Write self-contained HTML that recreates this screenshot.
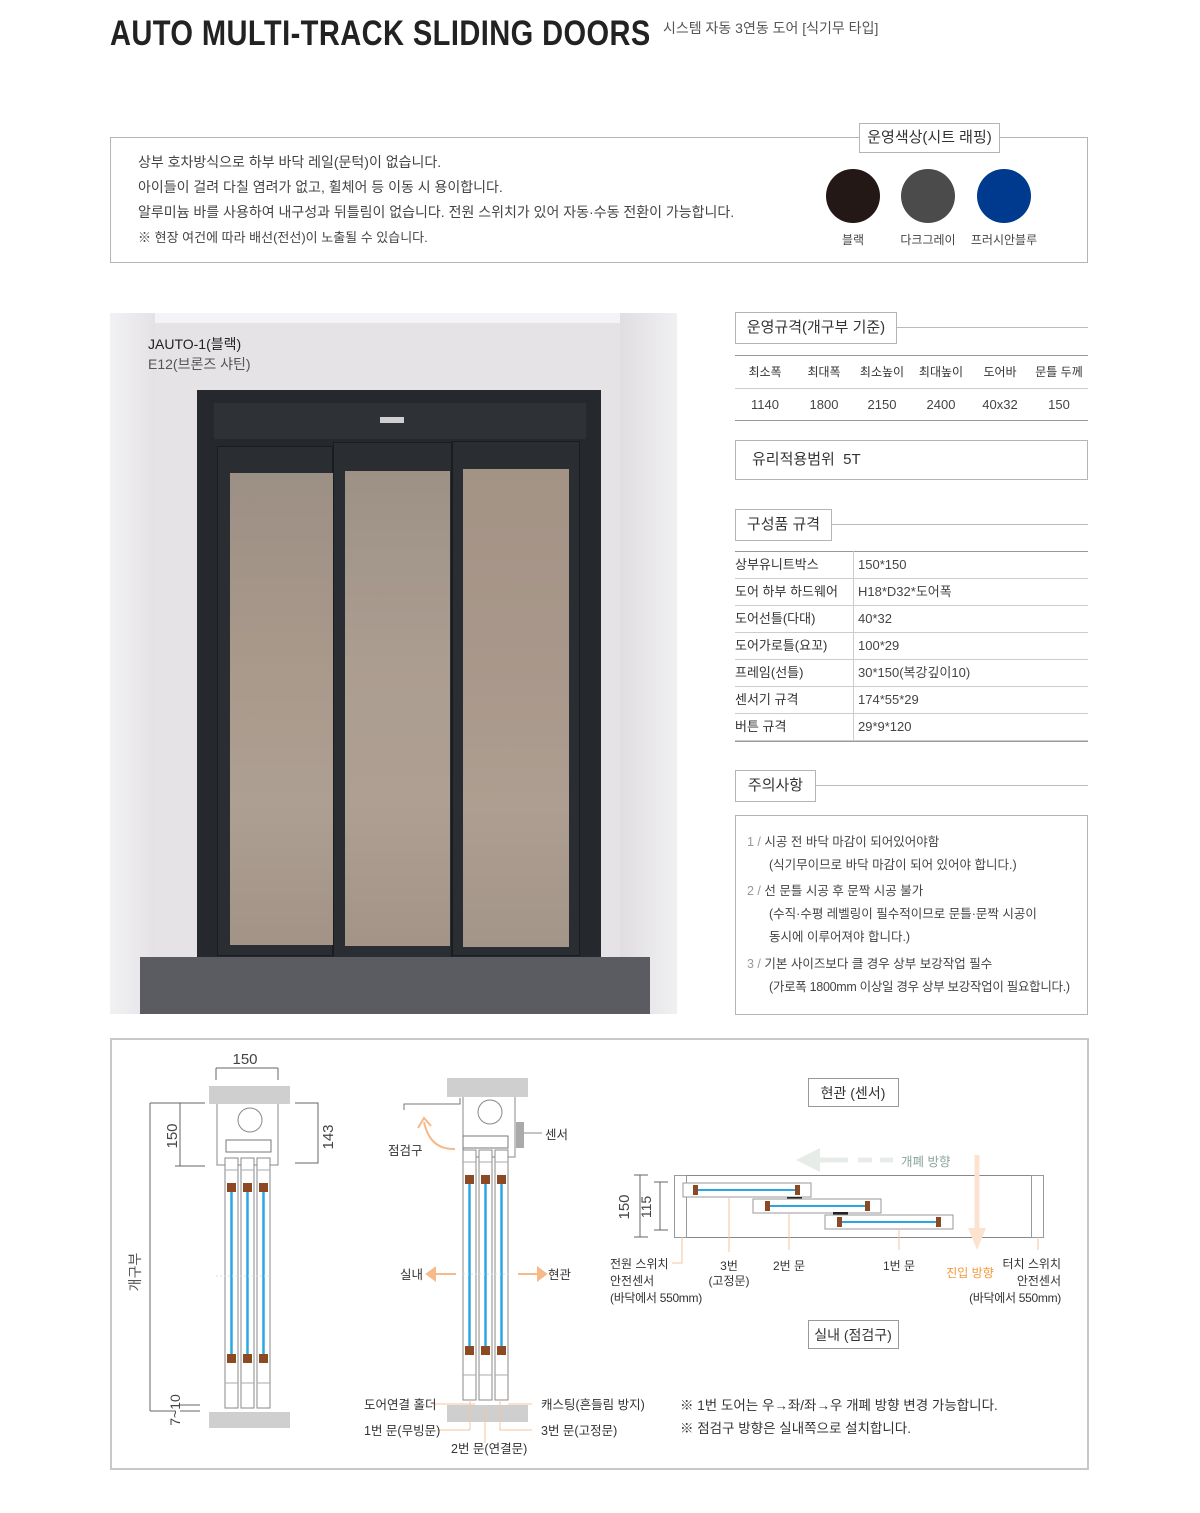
<!DOCTYPE html>
<html><head><meta charset="utf-8"><style>
*{margin:0;padding:0;box-sizing:border-box}
body{width:1200px;height:1513px;background:#fff;position:relative;overflow:hidden;font-family:"Liberation Sans","Noto Sans CJK KR",sans-serif;color:#444}
.a{position:absolute}
.t{position:absolute;white-space:nowrap;line-height:1}
.bx{position:absolute;border:1px solid #b5b5b5;background:#fff}
.hl{position:absolute;height:1px;background:#bbb}
</style></head><body>
<div class="t" style="left:110px;top:16px;font-size:35px;color:#222;letter-spacing:0.5px;font-weight:bold;transform:scaleX(0.83);transform-origin:left">AUTO MULTI-TRACK SLIDING DOORS</div>
<div class="t" style="left:663px;top:21px;font-size:14px;color:#555">시스템 자동 3연동 도어 [식기무 타입]</div>

<div class="bx" style="left:110px;top:137px;width:978px;height:126px"></div>
<div class="t" style="left:138px;top:155px;font-size:14px">상부 호차방식으로 하부 바닥 레일(문턱)이 없습니다.</div>
<div class="t" style="left:138px;top:180px;font-size:14px">아이들이 걸려 다칠 염려가 없고, 휠체어 등 이동 시 용이합니다.</div>
<div class="t" style="left:138px;top:205px;font-size:14px">알루미늄 바를 사용하여 내구성과 뒤틀림이 없습니다. 전원 스위치가 있어 자동·수동 전환이 가능합니다.</div>
<div class="t" style="left:138px;top:231px;font-size:13px">※ 현장 여건에 따라 배선(전선)이 노출될 수 있습니다.</div>
<div class="bx" style="left:859px;top:123px;width:141px;height:30px"></div>
<div class="t" style="left:859px;top:130px;width:141px;text-align:center;font-size:15px;color:#333">운영색상(시트 래핑)</div>
<div class="a" style="left:826px;top:169px;width:54px;height:54px;border-radius:50%;background:#231815"></div>
<div class="a" style="left:901px;top:169px;width:54px;height:54px;border-radius:50%;background:#4b4b4b"></div>
<div class="a" style="left:977px;top:169px;width:54px;height:54px;border-radius:50%;background:#003a8e"></div>
<div class="t" style="left:826px;top:234px;width:54px;text-align:center;font-size:12px">블랙</div>
<div class="t" style="left:893px;top:234px;width:70px;text-align:center;font-size:12px">다크그레이</div>
<div class="t" style="left:964px;top:234px;width:80px;text-align:center;font-size:12px">프러시안블루</div>

<!-- photo -->
<div class="a" style="left:110px;top:313px;width:567px;height:701px;background:#e6e3e6;overflow:hidden">
 <div class="a" style="left:0;top:0;width:45px;height:701px;background:linear-gradient(90deg,#f2f1f3,#e4e2e5)"></div>
 <div class="a" style="left:510px;top:0;width:57px;height:701px;background:linear-gradient(90deg,#e0dee1,#f0eff1)"></div>
 <div class="a" style="left:45px;top:0;width:465px;height:10px;background:#f4f3f5"></div>
 <div class="a" style="left:87px;top:77px;width:404px;height:570px;background:#25292d"></div>
 <div class="a" style="left:104px;top:90px;width:372px;height:36px;background:#2e3236"></div>
 <div class="a" style="left:270px;top:104px;width:24px;height:6px;background:#cfcfcf"></div>
 <div class="a" style="left:107px;top:133px;width:116px;height:510px;background:#2a2e33;border:1px solid #1a1d20"></div>
 <div class="a" style="left:223px;top:129px;width:119px;height:516px;background:#2a2e33;border:1px solid #1a1d20"></div>
 <div class="a" style="left:342px;top:128px;width:128px;height:515px;background:#2a2e33;border:1px solid #1a1d20"></div>
 <div class="a" style="left:120px;top:160px;width:103px;height:472px;background:linear-gradient(180deg,#9c8f84,#a9998b 40%,#ad9f92 70%,#a29386)"></div>
 <div class="a" style="left:235px;top:158px;width:105px;height:475px;background:linear-gradient(180deg,#9d9186,#ab9d90 40%,#ae9f92 70%,#a39487)"></div>
 <div class="a" style="left:353px;top:156px;width:106px;height:478px;background:linear-gradient(180deg,#a39385,#a8978a 40%,#ad9e91 70%,#a39588)"></div>
 <div class="a" style="left:30px;top:644px;width:510px;height:57px;background:#5b5c62"></div>
 <div class="t" style="left:38px;top:24px;font-size:14px;color:#222">JAUTO-1(블랙)</div>
 <div class="t" style="left:38px;top:44px;font-size:14px;color:#555">E12(브론즈 샤틴)</div>
</div>

<!-- right column -->
<div class="bx" style="left:735px;top:312px;width:162px;height:32px"></div>
<div class="t" style="left:735px;top:320px;width:162px;text-align:center;font-size:15px;color:#333">운영규격(개구부 기준)</div>
<div class="hl" style="left:897px;top:327px;width:191px"></div>
<div class="hl" style="left:735px;top:355px;width:353px;background:#999"></div>
<div class="hl" style="left:735px;top:388px;width:353px;background:#ccc"></div>
<div class="hl" style="left:735px;top:420px;width:353px;background:#999"></div>
<div class="t" style="left:735px;top:366px;width:60px;text-align:center;font-size:12px;color:#333">최소폭</div>
<div class="t" style="left:794px;top:366px;width:60px;text-align:center;font-size:12px;color:#333">최대폭</div>
<div class="t" style="left:852px;top:366px;width:60px;text-align:center;font-size:12px;color:#333">최소높이</div>
<div class="t" style="left:911px;top:366px;width:60px;text-align:center;font-size:12px;color:#333">최대높이</div>
<div class="t" style="left:970px;top:366px;width:60px;text-align:center;font-size:12px;color:#333">도어바</div>
<div class="t" style="left:1029px;top:366px;width:60px;text-align:center;font-size:12px;color:#333">문틀 두께</div>
<div class="t" style="left:735px;top:398px;width:60px;text-align:center;font-size:13px">1140</div>
<div class="t" style="left:794px;top:398px;width:60px;text-align:center;font-size:13px">1800</div>
<div class="t" style="left:852px;top:398px;width:60px;text-align:center;font-size:13px">2150</div>
<div class="t" style="left:911px;top:398px;width:60px;text-align:center;font-size:13px">2400</div>
<div class="t" style="left:970px;top:398px;width:60px;text-align:center;font-size:13px">40x32</div>
<div class="t" style="left:1029px;top:398px;width:60px;text-align:center;font-size:13px">150</div>

<div class="bx" style="left:735px;top:440px;width:353px;height:40px"></div>
<div class="t" style="left:752px;top:452px;font-size:15px;color:#333">유리적용범위 &nbsp;5T</div>

<div class="bx" style="left:735px;top:509px;width:97px;height:32px"></div>
<div class="t" style="left:735px;top:517px;width:97px;text-align:center;font-size:15px;color:#333">구성품 규격</div>
<div class="hl" style="left:832px;top:524px;width:256px"></div>
<div class="hl" style="left:735px;top:551px;width:353px;background:#999"></div>
<div class="a" style="left:735px;top:578px;width:353px;height:163px;background:repeating-linear-gradient(180deg,#ccc 0,#ccc 1px,transparent 1px,transparent 27px)"></div>
<div class="hl" style="left:735px;top:741px;width:353px;background:#999"></div>
<div class="a" style="left:853px;top:551px;width:1px;height:190px;background:#ccc"></div>
<div class="t" style="left:735px;top:551px;font-size:13px;color:#333;line-height:27px">상부유니트박스<br>도어 하부 하드웨어<br>도어선틀(다대)<br>도어가로틀(요꼬)<br>프레임(선틀)<br>센서기 규격<br>버튼 규격</div>
<div class="t" style="left:858px;top:551px;font-size:13px;line-height:27px">150*150<br>H18*D32*도어폭<br>40*32<br>100*29<br>30*150(복강깊이10)<br>174*55*29<br>29*9*120</div>

<div class="bx" style="left:735px;top:770px;width:81px;height:32px"></div>
<div class="t" style="left:735px;top:778px;width:81px;text-align:center;font-size:15px;color:#333">주의사항</div>
<div class="hl" style="left:816px;top:785px;width:272px"></div>
<div class="bx" style="left:735px;top:815px;width:353px;height:200px"></div>
<div class="t" style="left:747px;top:831px;font-size:12.5px;line-height:23px"><span style="color:#999">1 / </span>시공 전 바닥 마감이 되어있어야함<br><span style="padding-left:22px">(식기무이므로 바닥 마감이 되어 있어야 합니다.)</span></div>
<div class="t" style="left:747px;top:880px;font-size:12.5px;line-height:23px"><span style="color:#999">2 / </span>선 문틀 시공 후 문짝 시공 불가<br><span style="padding-left:22px">(수직·수평 레벨링이 필수적이므로 문틀·문짝 시공이</span><br><span style="padding-left:22px">동시에 이루어져야 합니다.)</span></div>
<div class="t" style="left:747px;top:953px;font-size:12.5px;line-height:23px"><span style="color:#999">3 / </span>기본 사이즈보다 클 경우 상부 보강작업 필수<br><span style="padding-left:22px;letter-spacing:-0.3px">(가로폭 1800mm 이상일 경우 상부 보강작업이 필요합니다.)</span></div>

<!-- bottom diagram -->
<div class="a" style="left:110px;top:1038px;width:979px;height:432px;border:2px solid #c8c8c8"></div>
<svg class="a" style="left:0;top:0" width="1200" height="1513" xmlns="http://www.w3.org/2000/svg" font-family="Liberation Sans, Noto Sans CJK KR, sans-serif">
 <defs>
  <g id="door">
   <rect x="0" y="0" width="13" height="250" fill="#fff" stroke="#888" stroke-width="1"/>
   <line x1="6.5" y1="30" x2="6.5" y2="200" stroke="#2aa7e0" stroke-width="2.5"/>
   <rect x="2" y="25" width="9" height="9" fill="#8b4a23"/>
   <rect x="2" y="196" width="9" height="9" fill="#8b4a23"/>
   <line x1="0" y1="12" x2="13" y2="12" stroke="#aaa"/>
   <line x1="0" y1="225" x2="13" y2="225" stroke="#aaa"/>
  </g>
 </defs>
 <rect x="209" y="1086" width="81" height="18" fill="#cfcfcf"/>
 <rect x="209" y="1412" width="81" height="16" fill="#cfcfcf"/>
 <path d="M217 1104 V1165 H278 V1104" fill="#fff" stroke="#888"/>
 <circle cx="250" cy="1120" r="12" fill="#fff" stroke="#888"/>
 <rect x="226" y="1140" width="45" height="12" fill="#fff" stroke="#777"/>
 <use href="#door" x="225" y="1158"/><use href="#door" x="241" y="1158"/><use href="#door" x="257" y="1158"/>
 <line x1="216" y1="1276" x2="272" y2="1276" stroke="#ddd" stroke-dasharray="2 2"/>
 <g stroke="#666" stroke-width="1" fill="none">
  <path d="M216 1068 V1080 M278 1068 V1080 M216 1068 H278"/>
  <path d="M150 1103 H175 M150 1411 H175 M150 1103 V1411"/>
  <path d="M180 1103 V1166 M175 1103 H205 M175 1166 H205"/>
  <path d="M295 1103 H318 V1163 H295"/>
  <path d="M180 1405 H200 M180 1411 H200"/>
 </g>
 <text x="245" y="1064" font-size="15" fill="#444" text-anchor="middle">150</text>
 <text transform="translate(177,1136) rotate(-90)" font-size="15" fill="#444" text-anchor="middle">150</text>
 <text transform="translate(333,1137) rotate(-90)" font-size="15" fill="#444" text-anchor="middle">143</text>
 <text transform="translate(140,1272) rotate(-90)" font-size="14" fill="#555" text-anchor="middle">개구부</text>
 <text transform="translate(180,1410) rotate(-90)" font-size="14" fill="#444" text-anchor="middle">7~10</text>
 <rect x="447" y="1078" width="81" height="19" fill="#cfcfcf"/>
 <rect x="447" y="1405" width="81" height="17" fill="#cfcfcf"/>
 <path d="M463 1097 V1157 H515 V1097" fill="#fff" stroke="#888"/>
 <circle cx="490" cy="1112" r="12" fill="#fff" stroke="#888"/>
 <rect x="463" y="1136" width="45" height="12" fill="#fff" stroke="#777"/>
 <path d="M404 1110 V1104 H460 V1098" fill="none" stroke="#777"/>
 <path d="M516 1122 h8 v26 h-8" fill="#aaa"/>
 <use href="#door" x="463" y="1150"/><use href="#door" x="479" y="1150"/><use href="#door" x="495" y="1150"/>
 <line x1="463" y1="1274" x2="510" y2="1274" stroke="#ddd" stroke-dasharray="2 2"/>
 <g stroke="#f5b98a" stroke-width="2" fill="none">
  <path d="M455 1149 Q430 1150 424 1122"/>
  <path d="M456 1274 H435 M518 1274 H538"/>
  <path d="M435 1268 L427 1274 L435 1280 Z M538 1268 L546 1274 L538 1280 Z" fill="#f5b98a"/>
  <path d="M418 1128 L424 1118 L431 1126" />
 </g>
 <g stroke="#f5c49c" stroke-width="1" fill="none">
  <path d="M435 1404 H475 M470 1430 H437 M470 1400 V1430 M485 1410 V1443 M500 1400 V1430 H532 M508 1404 H532"/>
 </g>
 <line x1="524" y1="1133" x2="542" y2="1133" stroke="#888"/>
 <g font-size="12.5" fill="#333">
  <text x="545" y="1139">센서</text>
  <text x="388" y="1155">점검구</text>
  <text x="400" y="1279">실내</text>
  <text x="548" y="1279">현관</text>
  <text x="364" y="1409">도어연결 홀더</text>
  <text x="364" y="1435">1번 문(무빙문)</text>
  <text x="451" y="1453">2번 문(연결문)</text>
  <text x="541" y="1409">캐스팅(흔들림 방지)</text>
  <text x="541" y="1435">3번 문(고정문)</text>
 </g>
 <rect x="808.5" y="1078.5" width="90" height="28" fill="#fff" stroke="#999"/>
 <text x="853" y="1098" font-size="14" fill="#333" text-anchor="middle">현관 (센서)</text>
 <rect x="808.5" y="1320.5" width="90" height="28" fill="#fff" stroke="#999"/>
 <text x="853" y="1340" font-size="14" fill="#333" text-anchor="middle">실내 (점검구)</text>
 <rect x="674.5" y="1175.5" width="369" height="62" fill="#fff" stroke="#888"/>
 <rect x="674.5" y="1175.5" width="12" height="62" fill="#fff" stroke="#999"/>
 <rect x="1031.5" y="1175.5" width="12" height="62" fill="#fff" stroke="#999"/>
 <g>
  <rect x="683" y="1183" width="128" height="14" fill="#fff" stroke="#999"/>
  <line x1="697" y1="1190" x2="797" y2="1190" stroke="#2aa7e0" stroke-width="2"/>
  <rect x="693" y="1185" width="5" height="10" fill="#8b4a23"/><rect x="795" y="1185" width="5" height="10" fill="#8b4a23"/>
  <rect x="787" y="1197" width="15" height="3" fill="#222"/>
  <rect x="753" y="1199" width="128" height="14" fill="#fff" stroke="#999"/>
  <line x1="768" y1="1206" x2="867" y2="1206" stroke="#2aa7e0" stroke-width="2"/>
  <rect x="765" y="1201" width="5" height="10" fill="#8b4a23"/><rect x="865" y="1201" width="5" height="10" fill="#8b4a23"/>
  <rect x="833" y="1212" width="15" height="3" fill="#222"/>
  <rect x="825" y="1215" width="128" height="14" fill="#fff" stroke="#999"/>
  <line x1="840" y1="1222" x2="938" y2="1222" stroke="#2aa7e0" stroke-width="2"/>
  <rect x="837" y="1217" width="5" height="10" fill="#8b4a23"/><rect x="936" y="1217" width="5" height="10" fill="#8b4a23"/>
 </g>
 <g stroke="#e8ece9" stroke-width="5" fill="none"><path d="M820 1160 H848 M858 1160 H872 M880 1160 H893"/></g>
 <path d="M796 1160 L820 1148 L820 1172 Z" fill="#e8ece9"/>
 <text x="901" y="1166" font-size="12.5" fill="#8aa59a">개폐 방향</text>
 <line x1="977" y1="1155" x2="977" y2="1230" stroke="#fbe3cf" stroke-width="5"/>
 <path d="M968 1228 L986 1228 L977 1250 Z" fill="#fbe3cf"/>
 <g stroke="#666" fill="none">
  <path d="M634 1175 H648 M634 1237 H648 M640 1175 V1237 M654 1182 H668 M654 1230 H668 M660 1182 V1230"/>
 </g>
 <text transform="translate(629,1207) rotate(-90)" font-size="15" fill="#444" text-anchor="middle">150</text>
 <text transform="translate(651,1207) rotate(-90)" font-size="14" fill="#444" text-anchor="middle">115</text>
 <g stroke="#f5c49c" fill="none"><path d="M682 1237 V1263 H672 M729 1197 V1252 M789 1213 V1250 M899 1229 V1250 M1038 1237 V1250"/></g>
 <g font-size="12" fill="#333">
  <text x="610" y="1268">전원 스위치</text><text x="610" y="1285">안전센서</text><text x="610" y="1302" letter-spacing="-0.3">(바닥에서 550mm)</text>
  <text x="729" y="1270" text-anchor="middle">3번</text><text x="729" y="1285" text-anchor="middle">(고정문)</text>
  <text x="789" y="1270" text-anchor="middle">2번 문</text>
  <text x="899" y="1270" text-anchor="middle">1번 문</text>
  <text x="1061" y="1268" text-anchor="end">터치 스위치</text><text x="1061" y="1285" text-anchor="end">안전센서</text><text x="1061" y="1302" text-anchor="end" letter-spacing="-0.3">(바닥에서 550mm)</text>
  <text x="970" y="1277" text-anchor="middle" fill="#f39a3a">진입 방향</text>
  <text x="680" y="1410" font-size="13.5">※ 1번 도어는 우→좌/좌→우 개폐 방향 변경 가능합니다.</text>
  <text x="680" y="1433" font-size="13.5">※ 점검구 방향은 실내쪽으로 설치합니다.</text>
 </g>
</svg>
</body></html>
